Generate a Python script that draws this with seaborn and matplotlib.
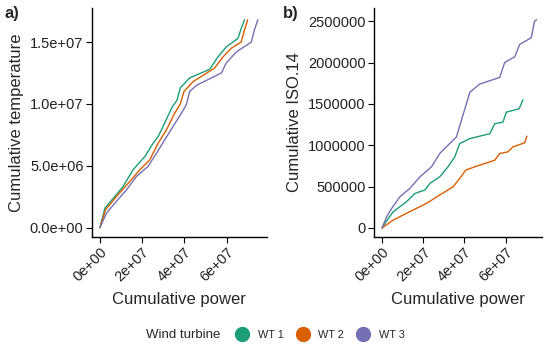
import numpy as np
import pandas as pd
import matplotlib
matplotlib.use("Agg")
import matplotlib.pyplot as plt
import seaborn as sns
from matplotlib.lines import Line2D
from matplotlib.ticker import FuncFormatter, MultipleLocator

# panel a) cumulative power vs cumulative temperature
wt1_pow_a = [0, 2.4e6, 7.1e6, 1.1e7, 1.57e7, 2.13e7, 2.52e7, 2.76e7, 2.99e7, 3.39e7, 3.65e7, 3.81e7,
             4.25e7, 5.2e7, 5.59e7, 5.98e7, 6.54e7, 6.69e7, 6.85e7]
wt1_temp = [0, 1.59e6, 2.53e6, 3.33e6, 4.68e6, 5.75e6, 6.83e6, 7.37e6, 8.17e6, 9.65e6, 1.03e7, 1.13e7,
            1.21e7, 1.28e7, 1.38e7, 1.46e7, 1.53e7, 1.61e7, 1.68e7]
wt2_pow_a = [0, 2.7e6, 7.9e6, 1.42e7, 1.89e7, 2.36e7, 2.76e7, 3.15e7, 3.54e7, 3.81e7, 3.98e7, 4.41e7,
             5.43e7, 5.83e7, 6.22e7, 6.69e7, 6.85e7, 7.0e7]
wt2_temp = [0, 1.45e6, 2.53e6, 3.74e6, 4.68e6, 5.48e6, 6.83e6, 7.9e6, 9.25e6, 1.0e7, 1.1e7, 1.18e7,
            1.29e7, 1.38e7, 1.45e7, 1.5e7, 1.6e7, 1.68e7]
wt3_pow_a = [0, 3.15e6, 7.1e6, 1.26e7, 1.73e7, 2.28e7, 2.68e7, 3.07e7, 3.46e7, 3.86e7, 4.09e7, 4.25e7,
             4.57e7, 5.75e7, 5.98e7, 6.46e7, 7.17e7, 7.32e7, 7.48e7]
wt3_temp = [0, 1.18e6, 1.99e6, 3.06e6, 4.14e6, 4.95e6, 6.02e6, 7.1e6, 8.17e6, 9.25e6, 9.92e6, 1.1e7,
            1.15e7, 1.25e7, 1.33e7, 1.42e7, 1.5e7, 1.6e7, 1.68e7]

# panel b) cumulative power vs cumulative ISO.14
wt1_pow_b = [0, 3.1e6, 5.5e6, 8.7e6, 1.19e7, 1.6e7, 2.08e7, 2.32e7, 2.8e7, 3.2e7, 3.53e7, 3.77e7,
             4.26e7, 5.23e7, 5.47e7, 5.87e7, 6.03e7, 6.65e7, 6.84e7]
wt1_iso = [0, 116e3, 197e3, 257e3, 317e3, 418e3, 458e3, 538e3, 618e3, 739e3, 859e3, 1.02e6,
           1.08e6, 1.14e6, 1.26e6, 1.28e6, 1.4e6, 1.44e6, 1.55e6]
wt2_pow_b = [0, 5.5e6, 1.35e7, 2.16e7, 2.8e7, 3.45e7, 3.77e7, 4.06e7, 4.5e7, 5.47e7, 5.71e7, 6.11e7,
             6.35e7, 6.92e7, 7.03e7]
wt2_iso = [0, 96e3, 197e3, 297e3, 398e3, 498e3, 598e3, 699e3, 739e3, 819e3, 900e3, 920e3,
           980e3, 1.03e6, 1.11e6]
wt3_pow_b = [0, 2.3e6, 4.7e6, 8.7e6, 1.35e7, 1.84e7, 2.4e7, 2.8e7, 3.2e7, 3.61e7, 3.85e7, 4.26e7,
             4.74e7, 5.71e7, 5.95e7, 6.44e7, 6.68e7, 7.24e7, 7.4e7, 7.5e7]
wt3_iso = [0, 137e3, 237e3, 378e3, 478e3, 618e3, 739e3, 900e3, 1.0e6, 1.1e6, 1.3e6, 1.64e6,
           1.74e6, 1.82e6, 2.0e6, 2.07e6, 2.22e6, 2.3e6, 2.5e6, 2.52e6]

turbines = ["WT 1", "WT 2", "WT 3"]
colors = ["#1B9E77", "#D95F02", "#7570B3"]

dfa = pd.concat([
    pd.DataFrame({"power": wt1_pow_a, "val": wt1_temp, "turbine": "WT 1"}),
    pd.DataFrame({"power": wt2_pow_a, "val": wt2_temp, "turbine": "WT 2"}),
    pd.DataFrame({"power": wt3_pow_a, "val": wt3_temp, "turbine": "WT 3"}),
])
dfb = pd.concat([
    pd.DataFrame({"power": wt1_pow_b, "val": wt1_iso, "turbine": "WT 1"}),
    pd.DataFrame({"power": wt2_pow_b, "val": wt2_iso, "turbine": "WT 2"}),
    pd.DataFrame({"power": wt3_pow_b, "val": wt3_iso, "turbine": "WT 3"}),
])

sns.set_style("white")
plt.rcParams['font.family'] = ['Liberation Sans', 'DejaVu Sans']

fig = plt.figure(figsize=(5.5, 3.47), dpi=100)
ax1 = fig.add_axes([0.167, 0.317, 0.318, 0.66])
ax2 = fig.add_axes([0.68, 0.317, 0.305, 0.66])

pal = dict(zip(turbines, colors))
sns.lineplot(data=dfa, x="power", y="val", hue="turbine", palette=pal, estimator=None,
             sort=False, lw=1, ax=ax1, legend=False)
sns.lineplot(data=dfb, x="power", y="val", hue="turbine", palette=pal, estimator=None,
             sort=False, lw=1, ax=ax2, legend=False)

ax1.set_xlim(-3.8e6, 7.9e7)
ax1.set_ylim(-7.5e5, 1.775e7)
ax2.set_xlim(-3.9e6, 7.75e7)
ax2.set_ylim(-1.1e5, 2.66e6)

for ax in (ax1, ax2):
    ax.xaxis.set_major_locator(MultipleLocator(2e7))
    ax.xaxis.set_major_formatter(FuncFormatter(lambda v, p: "{:.0e}".format(v)))
    for s in ["top", "right"]:
        ax.spines[s].set_visible(False)
    for s in ["left", "bottom"]:
        ax.spines[s].set_color("black")
        ax.spines[s].set_linewidth(1)
    ax.tick_params(axis="both", direction="out", length=4, width=0.8, color="black",
                   labelsize=10.5, labelcolor="#222222", bottom=True, left=True, pad=2)
    plt.setp(ax.get_xticklabels(), rotation=45, ha="right", rotation_mode="anchor")
    ax.set_xlabel("Cumulative power", fontsize=12, labelpad=5)

ax1.yaxis.set_major_locator(MultipleLocator(5e6))
ax1.yaxis.set_major_formatter(FuncFormatter(lambda v, p: "{:.1e}".format(v)))
ax2.yaxis.set_major_locator(MultipleLocator(5e5))
ax2.yaxis.set_major_formatter(FuncFormatter(lambda v, p: "{:d}".format(int(round(v)))))
ax1.set_ylabel("Cumulative temperature", fontsize=12, labelpad=4)
ax2.set_ylabel("Cumulative ISO.14", fontsize=12, labelpad=4)

fig.text(0.008, 0.982, "a)", fontsize=12, fontweight="bold", va="top")
fig.text(0.515, 0.982, "b)", fontsize=12, fontweight="bold", va="top")

handles = [Line2D([], [], marker="o", ls="", color=c, markersize=10) for c in colors]
fig.text(0.265, 0.035, "Wind turbine", fontsize=9.5, va="center")
fig.legend(handles, turbines, loc="center", bbox_to_anchor=(0.582, 0.035), ncol=3,
           frameon=False, fontsize=7.8, handletextpad=0.85, columnspacing=1.15, handlelength=1.2)

fig.savefig("out.png", dpi=100)
